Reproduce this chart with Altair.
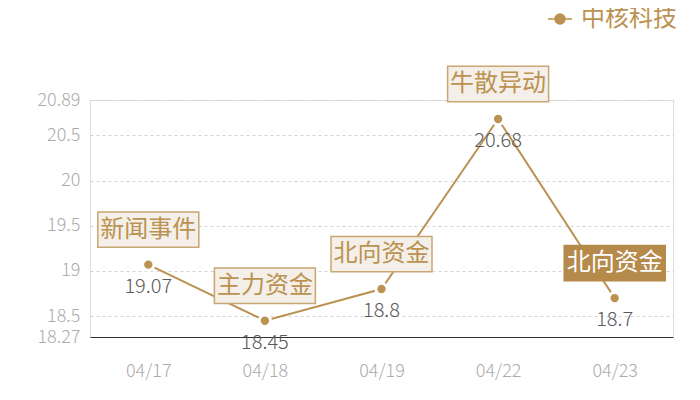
import altair as alt
import pandas as pd

# ---- data ----
dates = ["04/17", "04/18", "04/19", "04/22", "04/23"]
prices = [19.07, 18.45, 18.8, 20.68, 18.7]
events = ["新闻事件", "主力资金", "北向资金", "牛散异动", "北向资金"]
series_name = "中核科技"
y_ticks = [18.27, 18.5, 19, 19.5, 20, 20.5, 20.89]
y_min, y_max = 18.27, 20.89
highlight_date = "04/23"

df = pd.DataFrame({"date": dates, "price": prices, "event": events,
                   "series": [series_name] * len(dates)})

TAN = "#bb9251"
FONT = "Noto Sans CJK SC"

x = alt.X("date:N", sort=dates, title=None,
          scale=alt.Scale(type="point", padding=0.5),
          axis=alt.Axis(labelAngle=0, ticks=False, domain=True, domainColor="#333333",
                        domainWidth=1, grid=False, labelColor="#ababab",
                        labelFontSize=18, labelPadding=25, labelFont=FONT,
                        labelFontWeight=300))
y = alt.Y("price:Q", title=None,
          scale=alt.Scale(domain=[y_min, y_max], nice=False, zero=False),
          axis=alt.Axis(values=y_ticks, format=".4~g", ticks=False, domain=False,
                        grid=True, gridDash=[3, 3], gridColor="#d4d4d4", gridWidth=1,
                        labelColor="#ababab", labelFontSize=18, labelPadding=10,
                        labelFont=FONT, labelFontWeight=300))

base = alt.Chart(df).encode(x=x, y=y)

legend_path = "M-1,0L1,0M0.42,0A0.42,0.42,0,1,1,-0.42,0A0.42,0.42,0,1,1,0.42,0Z"

line = base.mark_line(strokeWidth=2).encode(
    color=alt.Color("series:N",
                    scale=alt.Scale(domain=[series_name], range=[TAN]),
                    legend=alt.Legend(title=None, orient="none", legendX=457, legendY=-94,
                                      symbolType=legend_path, symbolSize=576,
                                      symbolStrokeWidth=1.5, symbolFillColor=TAN,
                                      symbolStrokeColor=TAN, labelFontSize=24,
                                      labelColor=TAN, labelFont=FONT, padding=0,
                                      labelOffset=8, labelFontWeight=400))
)

halo = base.mark_circle(size=200, color="white", opacity=1)
dots = base.mark_circle(size=70, color=TAN, opacity=1)

values = base.mark_text(dy=22, fontSize=20, color="#5a5a5a", font=FONT, fontWeight=300,
                        baseline="middle").encode(text=alt.Text("price:Q", format="~g"))

is_hl = alt.datum.date == highlight_date
box_path = "M-1,-0.35L1,-0.35L1,0.35L-1,0.35Z"
boxes = base.mark_point(shape=box_path, size=10201, filled=True, opacity=1,
                        strokeWidth=1.5, yOffset=-35).encode(
    fill=alt.condition(is_hl, alt.value("#b58a4a"), alt.value("#f4efe8")),
    stroke=alt.condition(is_hl, alt.value("#b58a4a"), alt.value("#c9a773")),
)
labels = base.mark_text(dy=-35, fontSize=24, font=FONT, fontWeight=400,
                        baseline="middle").encode(
    text="event:N",
    color=alt.condition(is_hl, alt.value("white"), alt.value(TAN)),
)

chart = alt.layer(line, halo, dots, values, boxes, labels).properties(
    width=583, height=237,
    autosize=alt.AutoSizeParams(type="none"),
    padding={"left": 82, "top": 92, "right": 10, "bottom": 50},
).configure_view(stroke=None).configure(font=FONT)

chart.save("out.html", embed_options={"renderer": "svg", "actions": False})
